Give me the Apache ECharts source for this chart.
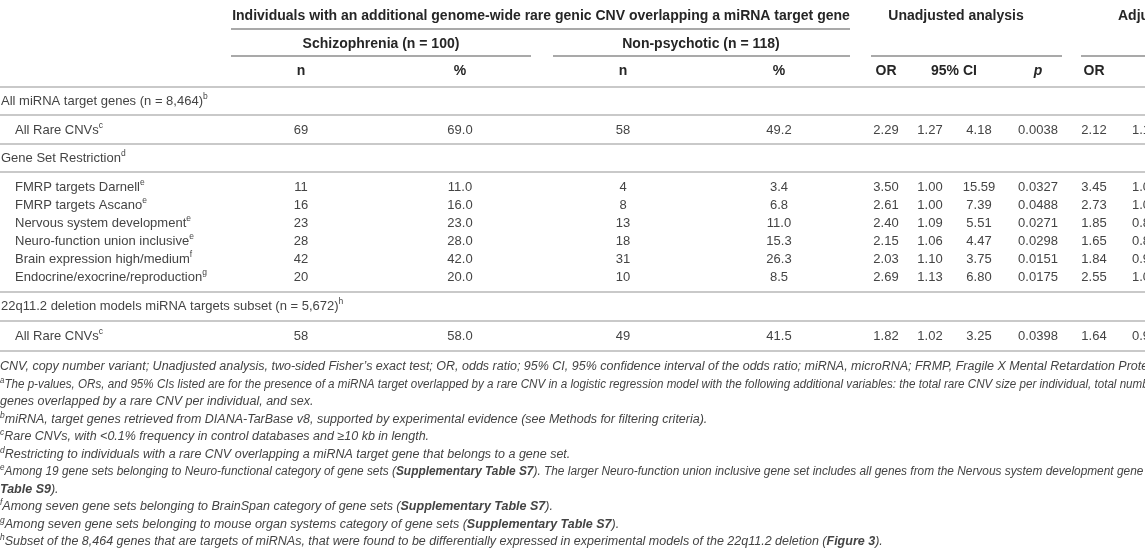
<!DOCTYPE html>
<html>
<head>
<meta charset="utf-8">
<script src="https://cdn.jsdelivr.net/npm/echarts@6/dist/echarts.min.js"></script>
<style>
  html, body { margin: 0; padding: 0; background: #fff; }
  #main { width: 1145px; height: 550px; }
</style>
</head>
<body>
<div id="main"></div>
<script>
// table data
var groupLabels = [
    ['All miRNA target genes (n = 8,464)', 'b'],
    ['Gene Set Restriction', 'd'],
    ['22q11.2 deletion models miRNA targets subset (n = 5,672)', 'h']
];
var rowLabels = ['All Rare CNVs', 'FMRP targets Darnell', 'FMRP targets Ascano', 'Nervous system development',
    'Neuro-function union inclusive', 'Brain expression high/medium', 'Endocrine/exocrine/reproduction', 'All Rare CNVs'];
var rowSup = ['c', 'e', 'e', 'e', 'e', 'f', 'g', 'c'];
var sczN = ['69', '11', '16', '23', '28', '42', '20', '58'];
var sczPct = ['69.0', '11.0', '16.0', '23.0', '28.0', '42.0', '20.0', '58.0'];
var npN = ['58', '4', '8', '13', '18', '31', '10', '49'];
var npPct = ['49.2', '3.4', '6.8', '11.0', '15.3', '26.3', '8.5', '41.5'];
var orU = ['2.29', '3.50', '2.61', '2.40', '2.15', '2.03', '2.69', '1.82'];
var ciLowU = ['1.27', '1.00', '1.00', '1.09', '1.06', '1.10', '1.13', '1.02'];
var ciHighU = ['4.18', '15.59', '7.39', '5.51', '4.47', '3.75', '6.80', '3.25'];
var pU = ['0.0038', '0.0327', '0.0488', '0.0271', '0.0298', '0.0151', '0.0175', '0.0398'];
var orA = ['2.12', '3.45', '2.73', '1.85', '1.65', '1.84', '2.55', '1.64'];
var ciLowA = ['1.1', '1.0', '1.0', '0.8', '0.8', '0.9', '1.0', '0.9']; // cut off at the right edge

var colHeads = ['n', '%', 'n', '%', 'OR', '95% CI', 'p', 'OR'];

// footnotes: [sup, [[text, bold], ...], horizontal squeeze]
var footnotes = [
    ['', [['CNV, copy number variant; Unadjusted analysis, two-sided Fisher\u2019s exact test; OR, odds ratio; 95% CI, 95% confidence interval of the odds ratio; miRNA, microRNA; FRMP, Fragile X Mental Retardation Protein.', 0]], 1],
    ['a', [['The p-values, ORs, and 95% CIs listed are for the presence of a miRNA target overlapped by a rare CNV in a logistic regression model with the following additional variables: the total rare CNV size per individual, total number', 0]], 0.93],
    ['', [['genes overlapped by a rare CNV per individual, and sex.', 0]], 1],
    ['b', [['miRNA, target genes retrieved from DIANA-TarBase v8, supported by experimental evidence (see Methods for filtering criteria).', 0]], 1],
    ['c', [['Rare CNVs, with <0.1% frequency in control databases and \u226510 kb in length.', 0]], 1],
    ['d', [['Restricting to individuals with a rare CNV overlapping a miRNA target gene that belongs to a gene set.', 0]], 1],
    ['e', [['Among 19 gene sets belonging to Neuro-functional category of gene sets (', 0], ['Supplementary Table S7', 1], ['). The larger Neuro-function union inclusive gene set includes all genes from the Nervous system development gene set (', 0], ['Supplementary', 1]], 0.95],
    ['', [['Table S9', 1], [').', 0]], 1],
    ['f', [['Among seven gene sets belonging to BrainSpan category of gene sets (', 0], ['Supplementary Table S7', 1], [').', 0]], 1],
    ['g', [['Among seven gene sets belonging to mouse organ systems category of gene sets (', 0], ['Supplementary Table S7', 1], [').', 0]], 1],
    ['h', [['Subset of the 8,464 genes that are targets of miRNAs, that were found to be differentially expressed in experimental models of the 22q11.2 deletion (', 0], ['Figure 3', 1], [').', 0]], 1]
];

var FONT = 'Liberation Sans';
var BODY = '#444';
var HEAD = '#262626';

var colX = [301, 460, 623, 779, 886, 930, 979, 1038, 1094];
var rowY = [130, 187, 205, 223, 241, 259, 277, 336];
var groupY = [101, 158, 306];
var sepY = [87, 115, 144, 172, 292, 321, 351];

var els = [];

function txt(x, y, s, opt) {
    opt = opt || {};
    els.push({
        type: 'text', x: x, y: y, silent: true,
        scaleX: opt.scaleX || 1,
        style: {
            text: s,
            fill: opt.fill || BODY,
            font: (opt.style || 'normal') + ' ' + (opt.weight || 'normal') + ' ' + (opt.size || 13) + 'px "' + FONT + '"',
            align: opt.align || 'center',
            verticalAlign: 'middle',
            rich: opt.rich
        }
    });
}
function line(x1, x2, y, color, w) {
    els.push({ type: 'line', silent: true, shape: { x1: x1, y1: y, x2: x2, y2: y }, style: { stroke: color, lineWidth: w } });
}
function supRich(size, style, fill) {
    return {
        m: { fontSize: size, fontFamily: FONT, fontStyle: style, color: fill, lineHeight: 16 },
        b: { fontSize: size, fontFamily: FONT, fontStyle: style, fontWeight: 'bold', color: fill, lineHeight: 16 },
        s: { fontSize: 8.5, fontFamily: FONT, fontStyle: style, color: fill, lineHeight: 16, padding: [0, 0, 8, 0] }
    };
}

// header
var HB = { weight: 'bold', fill: HEAD, size: 14 };
txt(541, 16, 'Individuals with an additional genome-wide rare genic CNV overlapping a miRNA target gene', HB);
line(231, 850, 29, '#555', 1.2);
txt(381, 44, 'Schizophrenia (n = 100)', HB);
txt(701, 44, 'Non-psychotic (n = 118)', HB);
txt(956, 16, 'Unadjusted analysis', HB);
txt(1118, 16, 'Adjusted analysis', { weight: 'bold', fill: HEAD, size: 14, align: 'left' });
line(231, 531, 56, '#555', 1.2);
line(553, 850, 56, '#555', 1.2);
line(871, 1062, 56, '#555', 1.2);
line(1081, 1145, 56, '#555', 1.2);
colHeads.forEach(function (h, i) {
    var x = i < 5 ? colX[i] : (i === 5 ? 954 : (i === 6 ? colX[7] : colX[8]));
    txt(x, 71, h, { weight: 'bold', fill: HEAD, size: 14, style: h === 'p' ? 'italic' : 'normal' });
});

sepY.forEach(function (y) { line(0, 1145, y, '#c9c9c9', 2); });

groupLabels.forEach(function (g, i) {
    txt(1, groupY[i], '{m|' + g[0] + '}{s|' + g[1] + '}', { align: 'left', rich: supRich(13, 'normal', BODY) });
});

var cols = [sczN, sczPct, npN, npPct, orU, ciLowU, ciHighU, pU, orA];
rowLabels.forEach(function (lab, r) {
    txt(15, rowY[r], '{m|' + lab + '}{s|' + rowSup[r] + '}', { align: 'left', rich: supRich(13, 'normal', BODY) });
    cols.forEach(function (c, k) { txt(colX[k], rowY[r], c[r]); });
    txt(1132, rowY[r], ciLowA[r], { align: 'left' });
});

// footnotes
footnotes.forEach(function (f, i) {
    var s = f[0] ? '{s|' + f[0] + '}' : '';
    f[1].forEach(function (seg) { s += '{' + (seg[1] ? 'b' : 'm') + '|' + seg[0] + '}'; });
    txt(0, 367 + 17.5 * i, s, { align: 'left', scaleX: f[2], rich: supRich(12.5, 'italic', BODY) });
});

var myChart = echarts.init(document.getElementById('main'));
myChart.setOption({
    animation: false,
    graphic: { elements: els }
});
</script>
</body>
</html>
